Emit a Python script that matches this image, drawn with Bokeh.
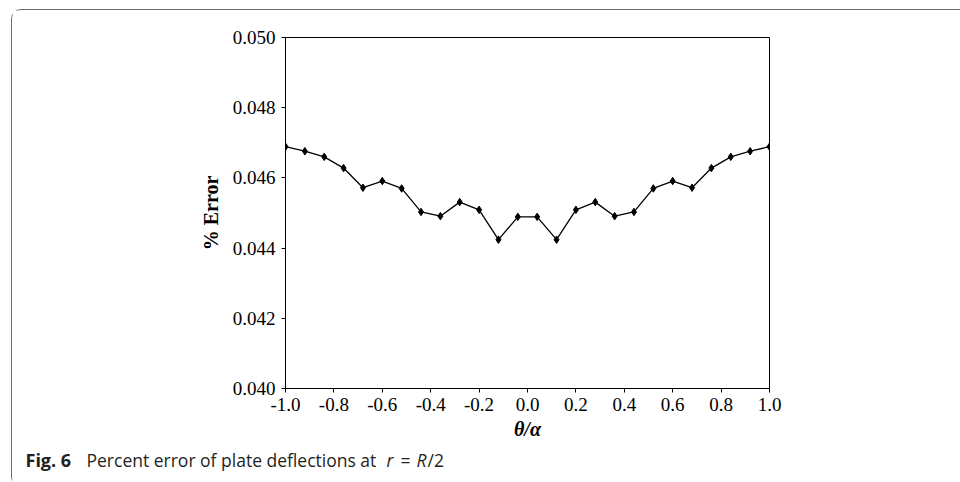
from bokeh.plotting import figure
from bokeh.layouts import column
from bokeh.models import Label, FixedTicker, Range1d, NumeralTickFormatter
from bokeh.embed import file_html
from bokeh.resources import INLINE

theta = [-1.0, -0.92, -0.84, -0.76, -0.68, -0.60, -0.52, -0.44, -0.36, -0.28, -0.20, -0.12, -0.04,
         0.04, 0.12, 0.20, 0.28, 0.36, 0.44, 0.52, 0.60, 0.68, 0.76, 0.84, 0.92, 1.0]
pct_error = [0.04689, 0.04676, 0.04660, 0.04628, 0.04572, 0.04591, 0.04570, 0.04503, 0.04491,
             0.04531, 0.04509, 0.04424, 0.04489,
             0.04489, 0.04424, 0.04509, 0.04531, 0.04491, 0.04503, 0.04570, 0.04591, 0.04572,
             0.04628, 0.04660, 0.04676, 0.04689]
x_ticks = [-1.0, -0.8, -0.6, -0.4, -0.2, 0.0, 0.2, 0.4, 0.6, 0.8, 1.0]
y_ticks = [0.040, 0.042, 0.044, 0.046, 0.048, 0.050]

X0, X1 = -1.0, 1.0
Y0, Y1 = 0.040, 0.050

W = 949
H_MAIN, H_CAP = 437, 36
p = figure(width=W, height=H_MAIN, output_backend="svg", toolbar_location=None,
           x_range=Range1d(X0, X1), y_range=Range1d(Y0, Y1),
           min_border_left=273, min_border_right=192, min_border_top=27, min_border_bottom=59)
p.frame_align = False
p.background_fill_color = "white"
p.border_fill_color = "white"
p.outline_line_color = "black"
p.outline_line_width = 1
p.xgrid.visible = False
p.ygrid.visible = False

p.line(theta, pct_error, line_color="black", line_width=1.3)
p.scatter(theta, pct_error, marker="diamond", size=7.5, fill_color="black", line_color="black")

for ax in (p.xaxis[0], p.yaxis[0]):
    ax.axis_line_color = "black"
    ax.major_tick_line_color = "black"
    ax.major_tick_in = 0
    ax.major_tick_out = 4
    ax.minor_tick_line_color = None
    ax.major_label_text_font = "Liberation Serif"
    ax.major_label_text_font_size = "19px"
    ax.major_label_text_color = "black"
    ax.axis_label_text_font = "Liberation Serif"
    ax.axis_label_text_color = "black"

p.xaxis.ticker = FixedTicker(ticks=x_ticks)
p.yaxis.ticker = FixedTicker(ticks=y_ticks)
p.xaxis.formatter = NumeralTickFormatter(format="0.0")
p.yaxis.formatter = NumeralTickFormatter(format="0.000")
p.xaxis.major_label_standoff = 5
p.yaxis.major_label_standoff = 6

p.xaxis.axis_label = "θ/α"
p.xaxis.axis_label_text_font_style = "bold italic"
p.xaxis.axis_label_text_font_size = "20px"
p.xaxis.axis_label_standoff = 4
p.yaxis.axis_label = "% Error"
p.yaxis.axis_label_text_font_style = "bold"
p.yaxis.axis_label_text_font_size = "20px"
p.yaxis.axis_label_standoff = 8

# caption strip: a bare figure whose data units equal its pixels
cap = figure(width=W, height=H_CAP, output_backend="svg", toolbar_location=None,
             x_range=Range1d(0, W), y_range=Range1d(0, H_CAP),
             x_axis_location=None, y_axis_location=None,
             min_border=0, min_border_left=0, min_border_right=0,
             min_border_top=0, min_border_bottom=0)
cap.frame_align = False
cap.outline_line_color = None
cap.xgrid.visible = False
cap.ygrid.visible = False
cap.background_fill_color = "white"
cap.border_fill_color = "white"

PAGE_LEFT, PAGE_BOTTOM = 11, 482
cap_font = "Open Sans"
cap_y = PAGE_BOTTOM - 458
parts = [
    ("Fig. 6", 24, "bold", "18px"),
    ("Percent error of plate deflections at", 85, "normal", "17.5px"),
    ("r", 385, "italic", "17.5px"),
    ("=", 399, "normal", "17.5px"),
    ("R", 415, "italic", "17.5px"),
    ("/2", 426, "normal", "17.5px"),
]
for txt, px, style, size in parts:
    cap.add_layout(Label(x=px - PAGE_LEFT, y=cap_y, text=txt,
                         text_font=cap_font, text_font_size=size,
                         text_font_style=style, text_baseline="middle", text_align="left",
                         text_color="#231f20"))

layout = column(p, cap, spacing=0)
layout.margin = (9, 0, 0, 11)
layout.styles = {"border-left": "1px solid #6e6e6e", "border-top": "1px solid #6e6e6e",
                 "border-top-left-radius": "10px", "border-bottom-left-radius": "6px"}

open("out.html", "w").write(file_html(layout, INLINE))
